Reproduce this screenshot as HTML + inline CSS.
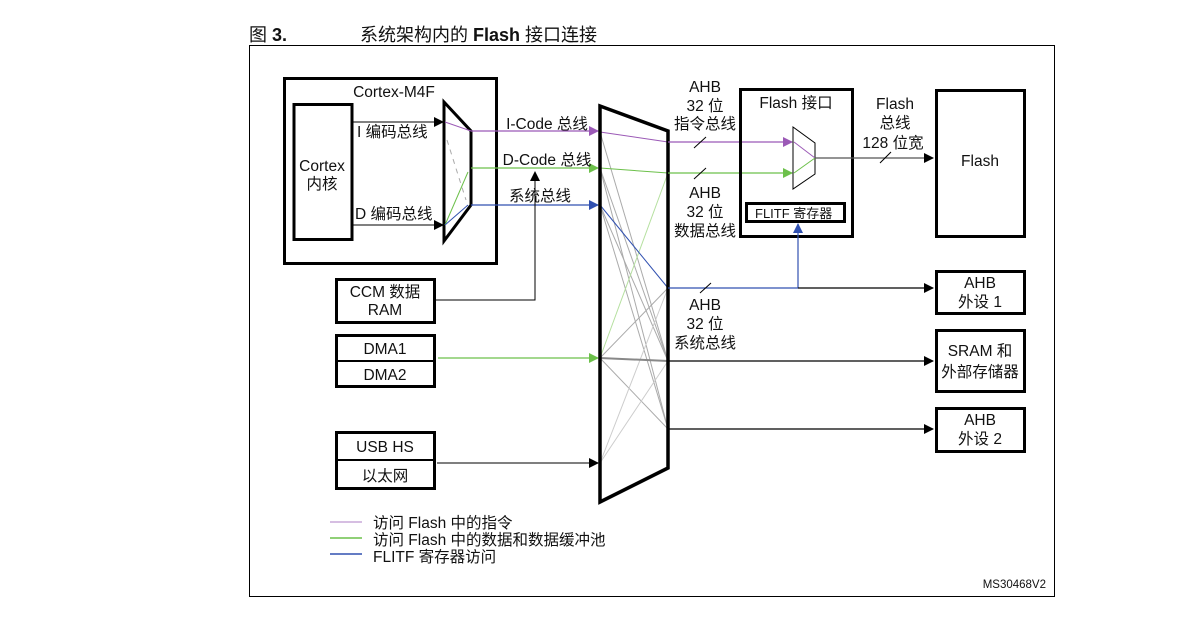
<!DOCTYPE html>
<html><head><meta charset="utf-8"><style>
body{margin:0;background:#fff;width:1188px;height:631px;overflow:hidden}
text{font-family:"Liberation Sans","Noto Sans CJK SC",sans-serif;font-size:15.5px;fill:#111}
</style></head><body>
<svg width="1188" height="631" viewBox="0 0 1188 631" xmlns="http://www.w3.org/2000/svg">
<defs>
<marker id="ak" markerWidth="10" markerHeight="10" refX="9" refY="5" orient="auto" markerUnits="userSpaceOnUse"><path d="M0,0 L10,5 L0,10z" fill="#000"/></marker>
<marker id="ap" markerWidth="10" markerHeight="10" refX="9" refY="5" orient="auto" markerUnits="userSpaceOnUse"><path d="M0,0 L10,5 L0,10z" fill="#9b59b6"/></marker>
<marker id="ag" markerWidth="10" markerHeight="10" refX="9" refY="5" orient="auto" markerUnits="userSpaceOnUse"><path d="M0,0 L10,5 L0,10z" fill="#6cc04a"/></marker>
<marker id="ab" markerWidth="10" markerHeight="10" refX="9" refY="5" orient="auto" markerUnits="userSpaceOnUse"><path d="M0,0 L10,5 L0,10z" fill="#3050b0"/></marker>
</defs>
<text x="249" y="41" style="font-size:18px">图 <tspan font-weight="bold">3.</tspan></text>
<text x="360" y="41" style="font-size:18px">系统架构内的 <tspan font-weight="bold">Flash</tspan> 接口连接</text>
<rect x="249.5" y="45.5" width="805" height="551" fill="none" stroke="#000" stroke-width="1"/>

<rect x="284.5" y="78.5" width="212" height="185" fill="none" stroke="#000" stroke-width="3"/>
<text x="394" y="97" text-anchor="middle">Cortex-M4F</text>
<rect x="294" y="104.5" width="58" height="135" fill="none" stroke="#000" stroke-width="3"/>
<text x="322" y="171" text-anchor="middle">Cortex</text>
<text x="322" y="189" text-anchor="middle">内核</text>
<line x1="352" y1="122" x2="443" y2="122" stroke="#000" marker-end="url(#ak)"/>
<line x1="352" y1="225" x2="443" y2="225" stroke="#000" marker-end="url(#ak)"/>
<text x="357" y="137">I 编码总线</text>
<text x="355" y="219">D 编码总线</text>
<polygon points="444,102 471,131 471,205 444,241" fill="none" stroke="#000" stroke-width="3"/>
<line x1="445" y1="122" x2="471" y2="131" stroke="#9b59b6"/>
<line x1="447" y1="140" x2="466" y2="200" stroke="#aaa" stroke-dasharray="5,5"/>
<line x1="445" y1="225" x2="468" y2="172" stroke="#6cc04a"/>
<line x1="445" y1="225" x2="468" y2="205" stroke="#3050b0"/>

<line x1="471" y1="131" x2="598" y2="131" stroke="#9b59b6" stroke-width="1.3" marker-end="url(#ap)"/>
<line x1="471" y1="168" x2="598" y2="168" stroke="#6cc04a" stroke-width="1.3" marker-end="url(#ag)"/>
<line x1="471" y1="205" x2="598" y2="205" stroke="#3050b0" stroke-width="1.3" marker-end="url(#ab)"/>
<text x="547" y="129" text-anchor="middle">I-Code 总线</text>
<text x="547" y="165" text-anchor="middle">D-Code 总线</text>
<text x="540" y="201" text-anchor="middle">系统总线</text>

<rect x="336.5" y="279.5" width="98" height="43" fill="none" stroke="#000" stroke-width="3"/>
<text x="385" y="297" text-anchor="middle">CCM 数据</text>
<text x="385" y="315" text-anchor="middle">RAM</text>
<polyline points="435,300 535,300 535,172" fill="none" stroke="#000" marker-end="url(#ak)"/>

<rect x="336.5" y="335.5" width="98" height="51" fill="none" stroke="#000" stroke-width="3"/>
<line x1="336" y1="361" x2="435" y2="361" stroke="#000" stroke-width="2"/>
<text x="385" y="354" text-anchor="middle">DMA1</text>
<text x="385" y="380" text-anchor="middle">DMA2</text>
<line x1="438" y1="358" x2="598" y2="358" stroke="#6cc04a" stroke-width="1.3" marker-end="url(#ag)"/>

<rect x="336.5" y="432.5" width="98" height="56" fill="none" stroke="#000" stroke-width="3"/>
<line x1="336" y1="460" x2="435" y2="460" stroke="#000" stroke-width="2"/>
<text x="385" y="452" text-anchor="middle">USB HS</text>
<text x="385" y="481" text-anchor="middle">以太网</text>
<line x1="437" y1="463" x2="598" y2="463" stroke="#333" stroke-width="1.3" marker-end="url(#ak)"/>

<g stroke="#aaa" stroke-width="1">
<line x1="600" y1="132" x2="668" y2="361"/>
<line x1="600" y1="168" x2="668" y2="361"/>
<line x1="600" y1="168" x2="668" y2="429"/>
<line x1="600" y1="205" x2="668" y2="361"/>
<line x1="600" y1="205" x2="668" y2="429"/>
<line x1="600" y1="358" x2="668" y2="288"/>
<line x1="600" y1="358" x2="668" y2="429"/>
<line x1="600" y1="463" x2="668" y2="361" stroke="#ccc"/>
<line x1="600" y1="463" x2="668" y2="288" stroke="#ccc"/>
</g>
<line x1="600" y1="358" x2="668" y2="361" stroke="#888" stroke-width="2"/>
<line x1="600" y1="358" x2="668" y2="173" stroke="#b5e09f"/>
<line x1="600" y1="132" x2="668" y2="142" stroke="#9b59b6"/>
<line x1="600" y1="168" x2="668" y2="173" stroke="#6cc04a"/>
<line x1="600" y1="205" x2="668" y2="288" stroke="#3050b0"/>
<polygon points="600,106 668,131 668,468 600,502" fill="none" stroke="#000" stroke-width="3.5"/>

<line x1="668" y1="142" x2="792" y2="142" stroke="#9b59b6" stroke-width="1.3" marker-end="url(#ap)"/>
<line x1="668" y1="173" x2="792" y2="173" stroke="#6cc04a" stroke-width="1.3" marker-end="url(#ag)"/>
<line x1="694" y1="148" x2="706" y2="137" stroke="#000"/>
<line x1="694" y1="179" x2="706" y2="168" stroke="#000"/>
<g text-anchor="middle">
<text x="705" y="92">AHB</text><text x="705" y="111">32 位</text><text x="705" y="129">指令总线</text>
<text x="705" y="198">AHB</text><text x="705" y="217">32 位</text><text x="705" y="236">数据总线</text>
<text x="705" y="310">AHB</text><text x="705" y="329">32 位</text><text x="705" y="348">系统总线</text>
</g>

<rect x="740.5" y="89.5" width="112" height="147" fill="none" stroke="#000" stroke-width="3"/>
<text x="796" y="108" text-anchor="middle">Flash 接口</text>
<polygon points="793,127 815,143 815,174 793,189" fill="none" stroke="#000"/>
<line x1="794" y1="142" x2="815" y2="158" stroke="#9b59b6"/>
<line x1="794" y1="173" x2="815" y2="158" stroke="#6cc04a"/>
<rect x="746.5" y="203.5" width="98" height="18" fill="none" stroke="#000" stroke-width="3"/>
<text x="755" y="218" style="font-size:13px">FLITF 寄存器</text>
<line x1="815" y1="158" x2="933" y2="158" stroke="#555" stroke-width="1.3" marker-end="url(#ak)"/>
<line x1="880" y1="163" x2="891" y2="152" stroke="#000"/>
<g text-anchor="middle"><text x="895" y="109">Flash</text><text x="895" y="128">总线</text><text x="893" y="148">128 位宽</text></g>

<rect x="936.5" y="90.5" width="88" height="146" fill="none" stroke="#000" stroke-width="3"/>
<text x="980" y="166" text-anchor="middle">Flash</text>

<line x1="668" y1="288" x2="798" y2="288" stroke="#3050b0" stroke-width="1.2"/>
<polyline points="798,288 798,224" fill="none" stroke="#3050b0" stroke-width="1.2" marker-end="url(#ab)"/>
<line x1="798" y1="288" x2="933" y2="288" stroke="#000" stroke-width="1.2" marker-end="url(#ak)"/>
<line x1="700" y1="293" x2="711" y2="283" stroke="#000"/>
<rect x="936.5" y="271.5" width="88" height="42" fill="none" stroke="#000" stroke-width="3"/>
<text x="980" y="288" text-anchor="middle">AHB</text><text x="980" y="307" text-anchor="middle">外设 1</text>

<line x1="668" y1="361" x2="933" y2="361" stroke="#000" stroke-width="1.2" marker-end="url(#ak)"/>
<rect x="936.5" y="330.5" width="88" height="61" fill="none" stroke="#000" stroke-width="3"/>
<text x="980" y="356" text-anchor="middle">SRAM 和</text><text x="980" y="377" text-anchor="middle">外部存储器</text>

<line x1="668" y1="429" x2="933" y2="429" stroke="#000" stroke-width="1.2" marker-end="url(#ak)"/>
<rect x="936.5" y="408.5" width="88" height="43" fill="none" stroke="#000" stroke-width="3"/>
<text x="980" y="425" text-anchor="middle">AHB</text><text x="980" y="444" text-anchor="middle">外设 2</text>

<line x1="330" y1="522" x2="362" y2="522" stroke="#c8a8d8" stroke-width="1.5"/>
<line x1="330" y1="538" x2="362" y2="538" stroke="#6cc04a" stroke-width="1.5"/>
<line x1="330" y1="554" x2="362" y2="554" stroke="#3050b0" stroke-width="1.5"/>
<text x="373" y="528">访问 Flash 中的指令</text>
<text x="373" y="545">访问 Flash 中的数据和数据缓冲池</text>
<text x="373" y="562">FLITF 寄存器访问</text>
<text x="1046" y="588" text-anchor="end" style="font-size:11.5px">MS30468V2</text>
</svg>
</body></html>
